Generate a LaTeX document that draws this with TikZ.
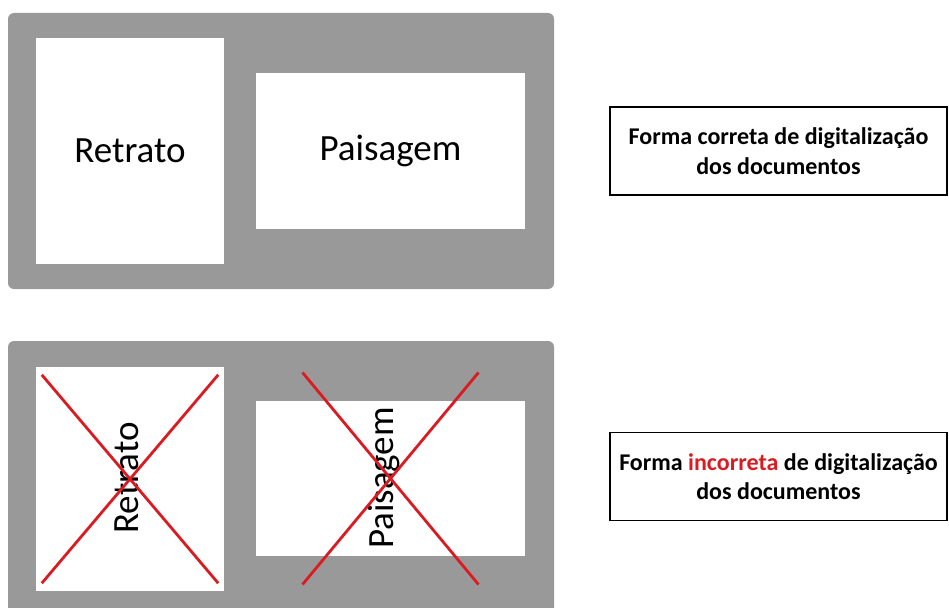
\documentclass[tikz,border=0pt]{standalone}
\usepackage{fontspec}
\setmainfont{Carlito}
\usepackage{xcolor}
\definecolor{panelgray}{RGB}{153,153,153}
\definecolor{wrongred}{RGB}{218,28,34}

\begin{document}
\begin{tikzpicture}[x=1pt, y=1pt, node distance=328pt,
  panel/.style={fill=panelgray, rounded corners=6pt, minimum width=546pt, minimum height=276pt, inner sep=0pt},
  sheet/.style={fill=white, inner sep=0pt},
  bigtext/.style={font=\fontsize{37}{40}\selectfont},
  note/.style={draw=black, line width=1.1pt, minimum width=337pt, minimum height=88pt, align=center, font=\fontsize{24}{29.5}\selectfont\bfseries},
  cross/.style={draw=wrongred, line width=2.8pt}]
\useasboundingbox (0,0) rectangle (949,-607);
\node[panel] (top) at (281,-151) {};
\node[sheet, minimum width=188pt, minimum height=226pt, bigtext] (ret1) at (130,-151) {Retrato};
\node[sheet, minimum width=269pt, minimum height=156pt, bigtext] (pai1) at (390.5,-151) {Paisagem};
\node[note] (ok) at (778.5,-151) {Forma correta de digitalização\\dos documentos};
% second row, rotated
\node[panel, below of=top] (bottom) {};
\node[sheet, minimum width=188pt, minimum height=224pt] (ret2) at (130,-479) {};
\node[sheet, minimum width=269pt, minimum height=155pt] (pai2) at (390.5,-478.5) {};
\node[bigtext, rotate=90] (ret2txt) at (127,-478) {Retrato};
\node[bigtext, rotate=90] (pai2txt) at (384,-478) {Paisagem};
\draw[cross] ([shift={(6pt,-8pt)}] ret2.north west) -- ([shift={(-6pt,8pt)}] ret2.south east);
\draw[cross] ([shift={(-6pt,-8pt)}] ret2.north east) -- ([shift={(6pt,8pt)}] ret2.south west);
\draw[cross] ([shift={(-88pt,106pt)}] pai2.center) -- ([shift={(88pt,-106pt)}] pai2.center);
\draw[cross] ([shift={(88pt,106pt)}] pai2.center) -- ([shift={(-88pt,-106pt)}] pai2.center);
\node[note, below of=ok, node distance=325.5pt] (wrong) {Forma \textcolor{wrongred}{incorreta} de digitalização\\dos documentos};
\end{tikzpicture}
\end{document}
